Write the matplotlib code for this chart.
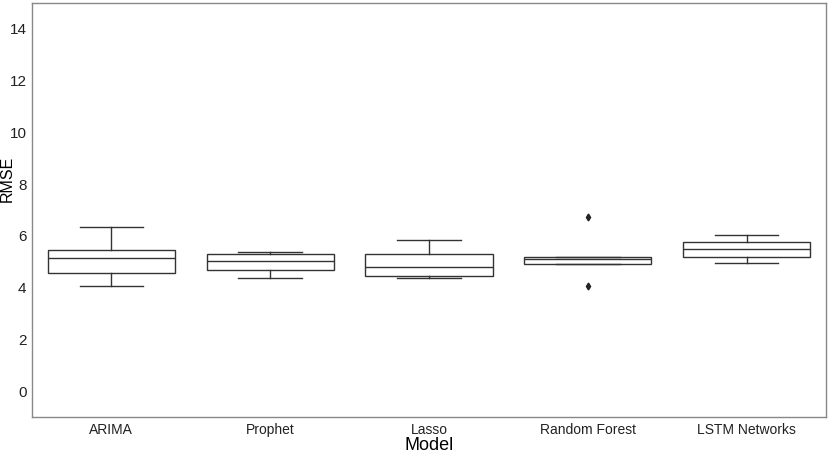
import matplotlib
matplotlib.use('Agg')
import matplotlib.pyplot as plt

models = ['ARIMA', 'Prophet', 'Lasso', 'Random Forest', 'LSTM Networks']
whisker_low = [4.06, 4.39, 4.38, 4.92, 4.94]
q1 = [4.56, 4.68, 4.45, 4.92, 5.20]
median = [5.14, 5.03, 4.80, 5.11, 5.49]
q3 = [5.45, 5.29, 5.29, 5.20, 5.77]
whisker_high = [6.36, 5.38, 5.83, 5.20, 6.04]
outliers = [[], [], [], [6.72, 4.07], []]

font = ['Liberation Sans', 'DejaVu Sans']
plt.rcParams['font.family'] = font

stats = []
for i, name in enumerate(models):
    stats.append(dict(label=name, whislo=whisker_low[i], q1=q1[i], med=median[i],
                      q3=q3[i], whishi=whisker_high[i], fliers=outliers[i]))

fig = plt.figure(figsize=(8.31, 4.57), dpi=100)
ax = fig.add_axes([32 / 831, 40 / 457, 794 / 831, 414 / 457])

line = dict(color='#333333', linewidth=1.0)
ax.bxp(stats, positions=range(len(models)), widths=0.8, patch_artist=True,
       boxprops=dict(facecolor='white', edgecolor='#333333', linewidth=1.0),
       medianprops=line, whiskerprops=line, capprops=line, capwidths=0.4,
       flierprops=dict(marker='d', markersize=3.5, markerfacecolor='#222222',
                       markeredgecolor='#222222'))

ax.set_xlim(-0.5, len(models) - 0.5)
ax.set_ylim(-1, 15)
ax.set_yticks(range(0, 15, 2))
ax.set_xticks(range(len(models)))
ax.set_xticklabels(models, fontsize=10)
ax.tick_params(axis='y', labelsize=11)
ax.tick_params(length=0, pad=4, colors='#222222')
for s in ax.spines.values():
    s.set_color('#888888')
    s.set_linewidth(1.0)

ax.set_xlabel('Model', fontsize=13, labelpad=0)
ax.set_ylabel('RMSE', fontsize=11.5)
ax.yaxis.set_label_coords(-0.022, 0.575)

fig.savefig('out.png', dpi=100)
